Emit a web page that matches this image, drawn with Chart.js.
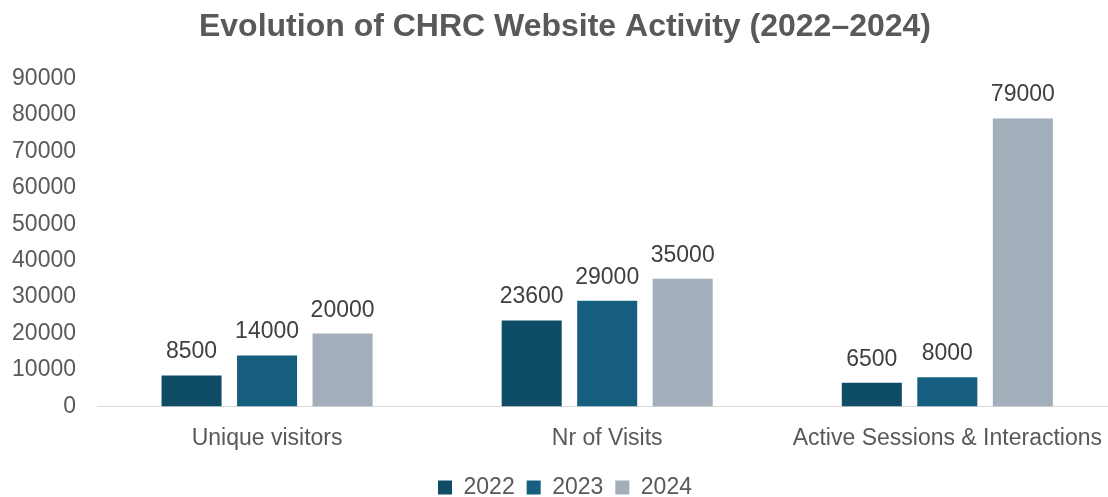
<!DOCTYPE html>
<html>
<head>
<meta charset="utf-8">
<script src="https://cdn.jsdelivr.net/npm/chart.js@4"></script>
<style>
  html, body { margin: 0; padding: 0; background: #fff; overflow: hidden; }
  #wrap { width: 1120px; height: 497px; }
</style>
</head>
<body>
<div id="wrap"><canvas id="activityChart"></canvas></div>
<script>
const categories = ['Unique visitors', 'Nr of Visits', 'Active Sessions & Interactions'];
const years = ['2022', '2023', '2024'];
const values2022 = [8500, 23600, 6500];
const values2023 = [14000, 29000, 8000];
const values2024 = [20000, 35000, 79000];
const yTicks = [0, 10000, 20000, 30000, 40000, 50000, 60000, 70000, 80000, 90000];

const colors = ['#0f4c66', '#165e80', '#a2aeb9'];
const FONT = '"Liberation Sans", Arial, sans-serif';

// draws the value above every bar
const valueLabels = {
  id: 'valueLabels',
  afterDatasetsDraw(chart) {
    const ctx = chart.ctx;
    ctx.save();
    ctx.font = '23px ' + FONT;
    ctx.fillStyle = '#404040';
    ctx.textAlign = 'center';
    ctx.textBaseline = 'alphabetic';
    chart.data.datasets.forEach((ds, i) => {
      chart.getDatasetMeta(i).data.forEach((bar, j) => {
        ctx.fillText(String(ds.data[j]), bar.x, bar.y - 17);
      });
    });
    ctx.restore();
  }
};

const ctx = document.getElementById('activityChart').getContext('2d');
new Chart(ctx, {
  type: 'bar',
  data: {
    labels: categories,
    datasets: [
      { label: years[0], data: values2022, backgroundColor: colors[0] },
      { label: years[1], data: values2023, backgroundColor: colors[1] },
      { label: years[2], data: values2024, backgroundColor: colors[2] }
    ]
  },
  options: {
    responsive: true,
    maintainAspectRatio: false,
    animation: false,
    layout: { padding: { left: 10, right: 0, top: 0, bottom: -12 } },
    datasets: { bar: { categoryPercentage: 0.666, barPercentage: 0.795 } },
    plugins: {
      title: {
        display: true,
        text: 'Evolution of CHRC Website Activity (2022\u20132024)',
        color: '#595959',
        font: { family: FONT, size: 32, weight: 'bold' },
        padding: { top: 8, bottom: 32 }
      },
      legend: {
        position: 'bottom',
        labels: {
          color: '#595959',
          font: { family: FONT, size: 23 },
          boxWidth: 14,
          boxHeight: 14,
          padding: 12
        }
      },
      tooltip: { enabled: false }
    },
    scales: {
      x: {
        grid: { display: false, drawTicks: false },
        border: { display: true, color: '#d9d9d9', width: 1 },
        ticks: {
          color: '#595959',
          padding: 18,
          font: { family: FONT, size: 23 }
        },
        afterFit(axis) { axis.height -= 6; }
      },
      y: {
        min: 0,
        max: 90000,
        afterBuildTicks(axis) { axis.ticks = yTicks.map(v => ({ value: v })); },
        grid: { display: false, drawTicks: false },
        border: { display: false },
        ticks: {
          color: '#595959',
          padding: 21,
          font: { family: FONT, size: 23 },
          callback: v => String(v)
        },
        afterFit(axis) { axis.width = 87; }
      }
    }
  },
  plugins: [valueLabels]
});
</script>
</body>
</html>
